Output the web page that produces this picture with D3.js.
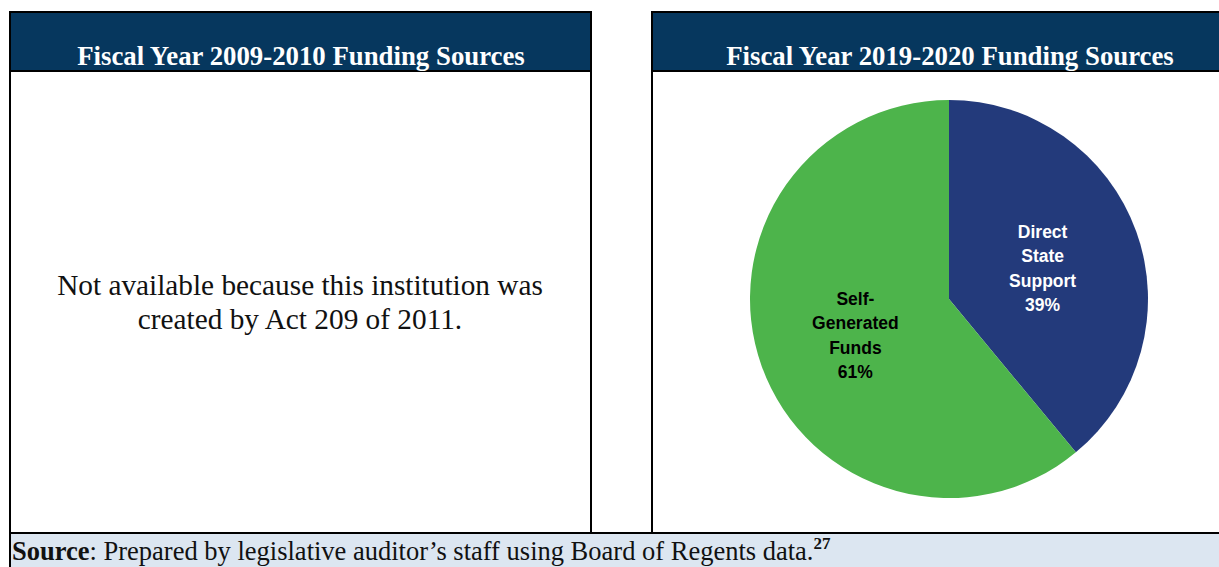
<!DOCTYPE html>
<html>
<head>
<meta charset="utf-8">
<script src="https://cdn.jsdelivr.net/npm/d3@7"></script>
<style>
  body { margin: 0; background: #fff; }
  svg { display: block; }
</style>
</head>
<body>
<div id="chart"></div>
<script>
// data
var panelTitles = ["Fiscal Year 2009-2010 Funding Sources", "Fiscal Year 2019-2020 Funding Sources"];
var naText = ["Not available because this institution was", "created by Act 209 of 2011."];
var sliceNames = [["Direct", "State", "Support"], ["Self-", "Generated", "Funds"]];
var sliceValues = [39, 61];
var sliceColors = ["#233a7b", "#4db44b"];
var sliceTextColors = ["#ffffff", "#000000"];

var W = 1219, H = 567;
var headerColor = "#06375e";
var serif = '"Liberation Serif", "Times New Roman", serif';

var svg = d3.select('#chart').append('svg')
  .attr('width', W)
  .attr('height', H);

// panels
var panels = [
  {x: 10, y: 12, w: 581, h: 521},
  {x: 652, y: 12, w: 580, h: 521}
];

panels.forEach(function(p, i) {
  svg.append('rect')
    .attr('x', p.x).attr('y', p.y)
    .attr('width', p.w).attr('height', p.h)
    .attr('fill', '#fff')
    .attr('stroke', '#000')
    .attr('stroke-width', 2);
  svg.append('rect')
    .attr('x', p.x).attr('y', p.y)
    .attr('width', p.w).attr('height', 59)
    .attr('fill', headerColor)
    .attr('stroke', '#000')
    .attr('stroke-width', 2);
  svg.append('text')
    .attr('x', i == 0 ? 301 : 950)
    .attr('y', 65)
    .attr('text-anchor', 'middle')
    .style('font-family', serif)
    .style('font-weight', 'bold')
    .style('font-size', '26.8px')
    .attr('fill', '#fff')
    .text(panelTitles[i]);
});

// left panel text
svg.append('g').selectAll('text')
  .data(naText)
  .enter().append('text')
  .attr('x', 300)
  .attr('y', function(d, i) { return 295 + i * 34; })
  .attr('text-anchor', 'middle')
  .style('font-family', serif)
  .style('font-size', '29.3px')
  .attr('fill', '#111')
  .text(function(d) { return d; });

// pie
var R = 199;
var cx = 949, cy = 299;
var pie = d3.pie().sort(null).value(function(d) { return d; });
var arc = d3.arc().innerRadius(0).outerRadius(R);
var labelArc = d3.arc().innerRadius(R / 2).outerRadius(R / 2);

var g = svg.append('g')
  .attr('transform', 'translate(' + cx + ',' + cy + ')');

var arcs = pie(sliceValues);

g.selectAll('path')
  .data(arcs)
  .enter().append('path')
  .attr('d', arc)
  .attr('fill', function(d, i) { return sliceColors[i]; });

var labels = g.selectAll('.lbl')
  .data(arcs)
  .enter().append('text')
  .attr('class', 'lbl')
  .attr('text-anchor', 'middle')
  .style('font-family', '"Liberation Sans", Arial, sans-serif')
  .style('font-weight', 'bold')
  .style('font-size', '17.5px')
  .attr('fill', function(d, i) { return sliceTextColors[i]; })
  .attr('transform', function(d) { return 'translate(' + labelArc.centroid(d) + ')'; });

labels.each(function(d, i) {
  var lines = sliceNames[i].concat([sliceValues[i] + '%']);
  var n = lines.length;
  d3.select(this).selectAll('tspan')
    .data(lines)
    .enter().append('tspan')
    .attr('x', 0)
    .attr('y', function(t, j) { return (j - (n - 1) / 2) * 24.5 + 9; })
    .text(function(t) { return t; });
});

// source bar
svg.append('rect')
  .attr('x', 10).attr('y', 533)
  .attr('width', W).attr('height', 40)
  .attr('fill', '#dce6f1')
  .attr('stroke', '#000')
  .attr('stroke-width', 2);

var src = svg.append('text')
  .attr('x', 12)
  .attr('y', 560)
  .style('font-family', serif)
  .style('font-size', '26.5px')
  .attr('fill', '#111');
src.append('tspan').style('font-weight', 'bold').text('Source');
src.append('tspan').text(': Prepared by legislative auditor\u2019s staff using Board of Regents data.');
src.append('tspan').attr('dy', -11).style('font-weight', 'bold').style('font-size', '17px').text('27');
</script>
</body>
</html>
